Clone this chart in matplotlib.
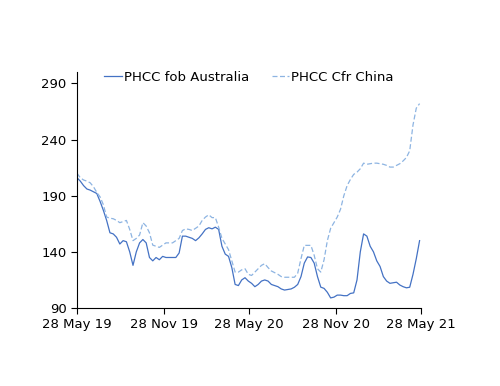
import pandas as pd
import matplotlib
matplotlib.use("Agg")
import matplotlib.pyplot as plt
import matplotlib.dates as mdates

# Weekly prices, 28 May 2019 onwards
dates = pd.date_range("2019-05-28", periods=105, freq="7D")

fob_australia = [
    206, 203, 199, 196, 195, 193.5, 192, 185, 177, 168,
    157, 156, 153, 147, 150, 149, 140, 128, 140, 148,
    151, 148, 135, 132, 135, 133, 136, 135, 135, 135,
    135, 139, 154, 154, 153, 152, 150, 152.5, 156, 160,
    161.5, 160.5, 162, 160, 145, 138, 136, 126, 111, 110,
    115, 117, 114, 112, 109, 111, 114, 115, 114, 111,
    110, 109, 107, 106, 106.5, 107, 108.5, 111, 118, 130,
    135.5, 135, 130, 118, 108.6, 107.5, 104, 99, 99.7, 101.5,
    101.5, 101, 101, 103, 103.5, 115, 140, 156, 154, 145,
    140, 132, 127, 118, 114, 112, 112.5, 113, 110.5, 109,
    108, 108.5, 120, 134, 150,
]

cfr_china = [
    210, 206, 204, 203, 201.5, 198, 193, 189, 182, 171,
    170, 169.5, 168, 166, 167, 168, 160, 150, 152, 155,
    166, 163, 157, 146, 145, 144, 146, 148, 148, 148,
    150, 152, 159, 160.5, 160, 159, 161, 163, 168, 171,
    173, 170.5, 170.5, 162, 152, 147, 142, 132, 122, 122,
    124, 125, 120, 119, 122, 125, 128, 129.5, 126, 123,
    121.5, 120, 118, 117.4, 117.4, 117.4, 117.4, 121, 134, 145.8,
    145.8, 145.8, 137, 125, 122, 133, 150, 161, 166, 171,
    178, 190, 199, 204.5, 209, 211, 214, 219, 218, 218.5,
    219, 219, 218.5, 218, 217, 215.5, 215.5, 217, 218.5, 221,
    224, 230, 253, 268, 272,
]

tick_dates = pd.to_datetime(["2019-05-28", "2019-11-28", "2020-05-28",
                             "2020-11-28", "2021-05-28"])
yticks = [90, 140, 190, 240, 290]

fig = plt.figure(figsize=(5, 3.86), dpi=100)
ax = fig.add_axes([0.154, 0.202, 0.688, 0.611])

ax.plot(dates, fob_australia, color="#4472C4", lw=0.9, label="PHCC fob Australia")
ax.plot(dates, cfr_china, color="#8DB4E2", lw=0.9, ls=(0, (4, 2)), label="PHCC Cfr China")

ax.set_xlim(tick_dates[0], tick_dates[-1])
ax.set_ylim(90, 300)
ax.set_xticks(tick_dates)
ax.xaxis.set_major_formatter(mdates.DateFormatter("%d %b %y"))
ax.set_yticks(yticks)

for side in ["top", "right"]:
    ax.spines[side].set_visible(False)
ax.tick_params(direction="out", length=4, labelsize=9.5, color="black")

ax.legend(loc="upper center", bbox_to_anchor=(0.5, 1.055), ncol=2, frameon=False,
          fontsize=9.5, handlelength=1.3, handletextpad=0.15, columnspacing=1.75)

fig.savefig("out.png", dpi=100)
